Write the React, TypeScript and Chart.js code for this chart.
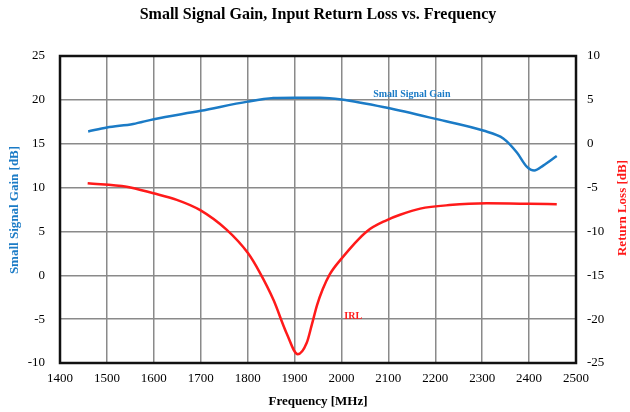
import React, { useEffect, useRef } from "react";
import { Chart, registerables } from "chart.js";

Chart.register(...registerables);

const gainFreq = [1460, 1500, 1556, 1600, 1700, 1800, 1855, 1900, 1954, 2000, 2097, 2203, 2302, 2345, 2374, 2395, 2411, 2430, 2459];
const gainValues = [16.4, 16.85, 17.25, 17.8, 18.75, 19.8, 20.2, 20.25, 20.25, 20.05, 19.1, 17.8, 16.5, 15.6, 14.0, 12.4, 11.95, 12.5, 13.6];

const irlFreq = [1459, 1542, 1599, 1649, 1698, 1755, 1801, 1826, 1855, 1883, 1907, 1926, 1937, 1948, 1960, 1975, 1997, 2054, 2097, 2125, 2168, 2230, 2310, 2400, 2459];
const irlValues = [-4.5, -4.9, -5.65, -6.4, -7.55, -9.8, -12.5, -14.7, -17.8, -21.6, -24.0, -22.7, -20.6, -18.4, -16.6, -14.9, -13.3, -10.0, -8.7, -8.1, -7.4, -7.0, -6.8, -6.85, -6.9];

const titleText = "Small Signal Gain, Input Return Loss vs. Frequency";
const xTitle = "Frequency [MHz]";
const yLeftTitle = "Small Signal Gain [dB]";
const yRightTitle = "Return Loss [dB]";
const gainLabel = "Small Signal Gain";
const irlLabel = "IRL";

const BLUE = "#1b7bc6";
const RED = "#ff1a1a";
const SERIF = "'Liberation Serif', 'Times New Roman', serif";

export default function App() {
  const ref = useRef<HTMLCanvasElement | null>(null);
  useEffect(() => {
    document.body.style.margin = "0";
    const canvas = ref.current!;
    const textPlugin = {
      id: "texts",
      beforeDatasetsDraw(chart: any) {
        const { ctx, chartArea } = chart;
        ctx.save();
        ctx.strokeStyle = "#111";
        ctx.lineWidth = 2.5;
        ctx.strokeRect(chartArea.left, chartArea.top, chartArea.right - chartArea.left, chartArea.bottom - chartArea.top);
        ctx.restore();
      },
      afterDraw(chart: any) {
        const { ctx, scales } = chart;
        ctx.save();
        ctx.textAlign = "center";
        ctx.textBaseline = "middle";
        ctx.fillStyle = "#000";
        ctx.font = `bold 16px ${SERIF}`;
        ctx.fillText(titleText, 318, 15);
        ctx.font = `bold 13px ${SERIF}`;
        ctx.fillText(xTitle, 318, 402);
        ctx.save();
        ctx.translate(15, 210);
        ctx.rotate(-Math.PI / 2);
        ctx.fillStyle = BLUE;
        ctx.fillText(yLeftTitle, 0, 0);
        ctx.restore();
        ctx.save();
        ctx.translate(623, 208);
        ctx.rotate(-Math.PI / 2);
        ctx.fillStyle = RED;
        ctx.fillText(yRightTitle, 0, 0);
        ctx.restore();
        ctx.font = `bold 10px ${SERIF}`;
        ctx.fillStyle = BLUE;
        ctx.fillText(gainLabel, scales.x.getPixelForValue(2150), scales.y.getPixelForValue(20.6));
        ctx.fillStyle = RED;
        ctx.fillText(irlLabel, scales.x.getPixelForValue(2025), scales.y2.getPixelForValue(-19.7));
        ctx.restore();
      },
    };
    const chart = new Chart(canvas, {
      type: "line",
      data: {
        datasets: [
          {
            label: gainLabel,
            data: gainFreq.map((f, i) => ({ x: f, y: gainValues[i] })),
            borderColor: BLUE,
            borderWidth: 2.5,
            pointRadius: 0,
            cubicInterpolationMode: "monotone",
            yAxisID: "y",
          },
          {
            label: irlLabel,
            data: irlFreq.map((f, i) => ({ x: f, y: irlValues[i] })),
            borderColor: RED,
            borderWidth: 2.5,
            pointRadius: 0,
            cubicInterpolationMode: "monotone",
            yAxisID: "y2",
          },
        ],
      },
      options: {
        animation: false,
        responsive: false,
        layout: { padding: { top: 56, left: 0, right: 0, bottom: 0 } },
        plugins: { legend: { display: false }, title: { display: false }, tooltip: { enabled: false } },
        scales: {
          x: {
            type: "linear",
            min: 1400,
            max: 2500,
            ticks: { stepSize: 100, color: "#000", font: { family: SERIF, size: 13 }, padding: 8, maxRotation: 0, callback: (v: any) => String(v) },
            grid: { color: "#8a8a8a", lineWidth: 1.5, drawTicks: false },
            border: { display: false },
            afterFit: (s: any) => { s.height = 49; },
          },
          y: {
            position: "left",
            min: -10,
            max: 25,
            ticks: { stepSize: 5, color: "#000", font: { family: SERIF, size: 13 }, padding: 15 },
            grid: { color: "#8a8a8a", lineWidth: 1.5, drawTicks: false },
            border: { display: false },
            afterFit: (s: any) => { s.width = 60; },
          },
          y2: {
            position: "right",
            min: -25,
            max: 10,
            ticks: { stepSize: 5, color: "#000", font: { family: SERIF, size: 13 }, padding: 11 },
            grid: { drawOnChartArea: false, drawTicks: false },
            border: { display: false },
            afterFit: (s: any) => { s.width = 54; },
          },
        },
      },
      plugins: [textPlugin],
    } as any);
    return () => chart.destroy();
  }, []);
  return (
    <div style={{ position: "absolute", left: 0, top: 0, width: 630, height: 412, background: "#fff" }}>
      <canvas ref={ref} width={630} height={412} style={{ display: "block" }} />
    </div>
  );
}
